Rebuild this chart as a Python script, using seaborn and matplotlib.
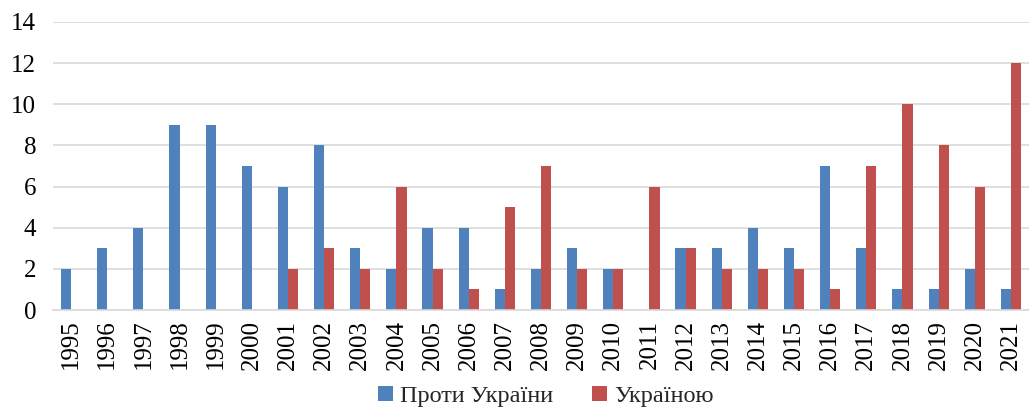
import numpy as np
import pandas as pd
import seaborn as sns
import matplotlib.pyplot as plt

years = [str(y) for y in range(1995, 2022)]
against_ukraine = [2, 3, 4, 9, 9, 7, 6, 8, 3, 2, 4, 4, 1, 2, 3, 2, 0, 3, 3, 4, 3, 7, 3, 1, 1, 2, 1]
by_ukraine = [0, 0, 0, 0, 0, 0, 2, 3, 2, 6, 2, 1, 5, 7, 2, 2, 6, 3, 2, 2, 2, 1, 7, 10, 8, 6, 12]
series_names = ['Проти України', 'Україною']

df = pd.DataFrame({
    'year': years * 2,
    'value': against_ukraine + by_ukraine,
    'series': [series_names[0]] * len(years) + [series_names[1]] * len(years),
})

sns.set_style('white')
plt.rcParams['font.family'] = ['Liberation Serif', 'DejaVu Serif']

fig = plt.figure(figsize=(10.29, 4.15), dpi=100)
ax = fig.add_axes([0.0515, 0.253, 0.9485, 0.694])

sns.barplot(data=df, x='year', y='value', hue='series', hue_order=series_names,
            palette=['#4F81BD', '#C0504D'], saturation=1, width=0.56, linewidth=0,
            ax=ax, legend=True)

ax.set_xlim(-0.5, len(years) - 0.5)
ax.set_ylim(0, 14)
ax.set_yticks(np.arange(0, 15, 2))
ax.yaxis.grid(True, color='#D9D9D9', linewidth=1.2)
ax.set_axisbelow(True)
for s in ['top', 'right', 'left']:
    ax.spines[s].set_visible(False)
ax.spines['bottom'].set_color('#D9D9D9')
ax.spines['bottom'].set_linewidth(1.2)
ax.tick_params(axis='both', length=0, labelsize=18, colors='black')
ax.tick_params(axis='x', pad=7)
plt.setp(ax.get_xticklabels(), rotation=90)
ax.tick_params(axis='y', pad=12)
ax.set_xlabel('')
ax.set_ylabel('')

ax.legend(loc='lower center', bbox_to_anchor=(0.505, -0.37), ncol=2, frameon=False,
          fontsize=17.5, handlelength=0.6, handleheight=0.6, handletextpad=0.3,
          columnspacing=1.6, borderaxespad=0)

fig.savefig('out.png', dpi=100)
